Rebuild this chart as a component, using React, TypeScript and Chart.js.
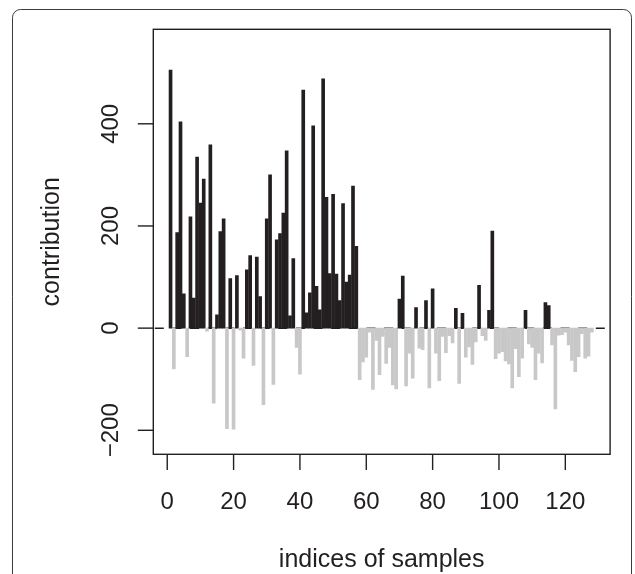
import React, { useEffect, useRef } from "react";
import { Chart, registerables } from "chart.js";

Chart.register(...registerables);

// ---- data ----
const contributions: number[] = [
  505, -80, 187, 404, 67, -56, 218, 59, 335, 245,
  292, -6, 359, -147, 26, 189, 214, -197, 97, -198,
  103, -4, -59, 114, 142, -73, 139, 62, -150, 214,
  300, -110, 173, 185, 225, 347, 24, 136, -38, -90,
  466, 30, 69, 396, 82, 36, 488, 256, 107, 262,
  106, 54, 244, 90, 104, 278, 160, -101, -66, -57,
  -8, -120, -24, -91, -16, -69, -38, -111, -119, 57,
  102, -113, -49, -98, 40, -39, -42, 54, -117, 77,
  -49, -103, -16, -48, -15, -29, 39, -108, 29, -57,
  -37, -71, -27, 84, -15, -24, 35, 190, -60, -49,
  -46, -64, -70, -117, -40, -95, -59, 35, -31, -38,
  -101, -49, -68, 50, 44, -33, -158, -14, -13, -8,
  -33, -63, -85, -56, -11, -59, -55, -8,
];
const sampleIndices: number[] = contributions.map((_, k) => k + 1);
const xTickValues: number[] = [0, 20, 40, 60, 80, 100, 120];
const yTickValues: number[] = [-200, 0, 200, 400];
const xTitle = "indices of samples";
const yTitle = "contribution";

const INK = "#231f20";
const GREY = "#c8c8c8";
const TICK_FONT = '24px "Liberation Sans", Arial, Helvetica, sans-serif';
const TITLE_FONT = '25px "Liberation Sans", Arial, Helvetica, sans-serif';

const fmt = (v: number) => (v < 0 ? "\u2212" + Math.abs(v) : String(v));

const rStylePlugin = {
  id: "rStyle",
  beforeDraw(chart: any) {
    const ctx = chart.ctx as CanvasRenderingContext2D;
    ctx.save();
    ctx.strokeStyle = "#3c3c3c";
    ctx.lineWidth = 1;
    const l = 12.5, t = 9.5, r = 631.5, b = 640, rad = 8;
    ctx.beginPath();
    ctx.moveTo(l, b);
    ctx.lineTo(l, t + rad);
    ctx.arcTo(l, t, l + rad, t, rad);
    ctx.lineTo(r - rad, t);
    ctx.arcTo(r, t, r, t + rad, rad);
    ctx.lineTo(r, b);
    ctx.stroke();
    ctx.restore();
  },
  beforeDatasetsDraw(chart: any) {
    const { ctx, chartArea: a, scales } = chart;
    const y0 = scales.y.getPixelForValue(0);
    ctx.save();
    ctx.strokeStyle = INK;
    ctx.lineWidth = 1.5;
    ctx.setLineDash([9, 8.64]);
    ctx.beginPath();
    ctx.moveTo(a.left + 1.5, y0);
    ctx.lineTo(a.right, y0);
    ctx.stroke();
    ctx.restore();
  },
  afterDraw(chart: any) {
    const { ctx, chartArea: a, scales } = chart;
    const c = ctx as CanvasRenderingContext2D;
    c.save();
    c.strokeStyle = INK;
    c.fillStyle = INK;
    c.lineWidth = 1.4;
    c.setLineDash([]);
    // box
    c.strokeRect(a.left, a.top, a.right - a.left, a.bottom - a.top);
    // y ticks
    c.font = TICK_FONT;
    yTickValues.forEach((v) => {
      const py = scales.y.getPixelForValue(v);
      c.beginPath();
      c.moveTo(a.left - 15.5, py);
      c.lineTo(a.left, py);
      c.stroke();
      c.save();
      c.translate(118.3, py);
      c.rotate(-Math.PI / 2);
      c.textAlign = "center";
      c.textBaseline = "alphabetic";
      c.fillText(fmt(v), 0, 0);
      c.restore();
    });
    // x ticks
    xTickValues.forEach((v) => {
      const px = scales.x.getPixelForValue(v);
      c.beginPath();
      c.moveTo(px, a.bottom);
      c.lineTo(px, a.bottom + 15.7);
      c.stroke();
      c.textAlign = "center";
      c.textBaseline = "alphabetic";
      c.fillText(fmt(v), px, 509.3);
    });
    // titles
    c.font = TITLE_FONT;
    c.textAlign = "center";
    c.textBaseline = "alphabetic";
    c.fillText(xTitle, (a.left + a.right) / 2, 567);
    c.save();
    c.translate(58.5, (a.top + a.bottom) / 2);
    c.rotate(-Math.PI / 2);
    c.fillText(yTitle, 0, 0);
    c.restore();
    c.restore();
  },
};

export default function App() {
  const canvasRef = useRef<HTMLCanvasElement | null>(null);

  useEffect(() => {
    if (!canvasRef.current) return;
    const chart = new Chart(canvasRef.current, {
      type: "bar",
      data: {
        datasets: [
          {
            data: sampleIndices.map((x, k) => ({ x, y: contributions[k] })),
            backgroundColor: contributions.map((v) => (v >= 0 ? INK : GREY)),
            borderWidth: 0,
            barThickness: 3,
            grouped: false,
          } as any,
        ],
      },
      options: {
        animation: false,
        responsive: true,
        maintainAspectRatio: false,
        events: [],
        layout: { padding: { left: 153.3, top: 29.3, right: 24.9, bottom: 119.7 } },
        plugins: { legend: { display: false }, tooltip: { enabled: false } },
        scales: {
          x: { type: "linear", min: -4.2, max: 133.5, display: false, offset: false },
          y: { type: "linear", min: -247, max: 585, display: false },
        },
      },
      plugins: [rStylePlugin],
    });
    return () => chart.destroy();
  }, []);

  return (
    <div style={{ position: "absolute", left: 0, top: 0, width: 635, height: 574, background: "#fff" }}>
      <canvas ref={canvasRef} />
    </div>
  );
}
